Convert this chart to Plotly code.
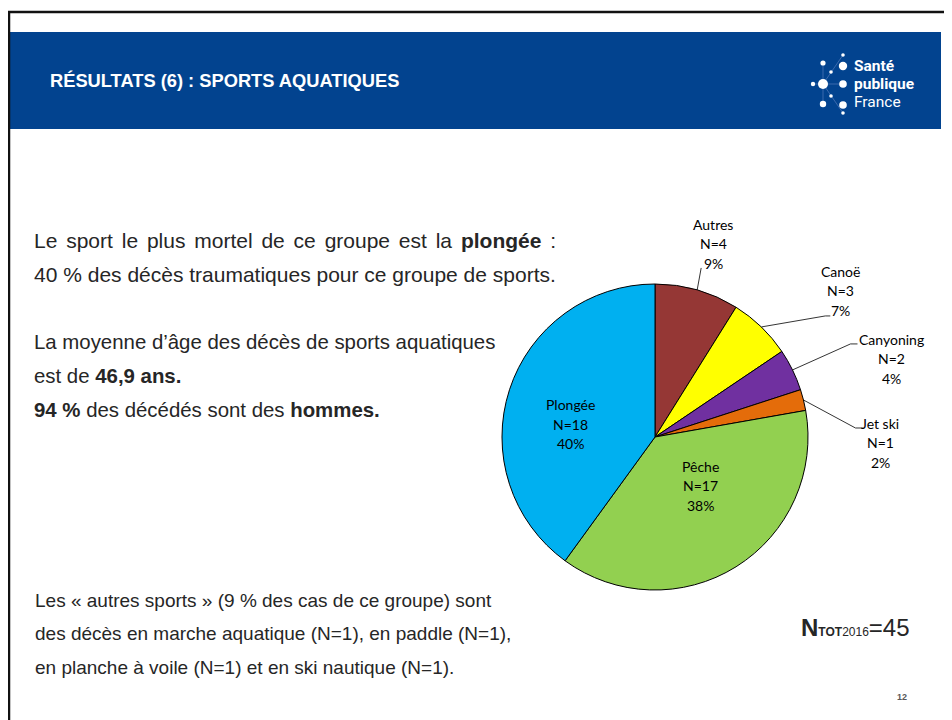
import math
import plotly.graph_objects as go

W, H = 952, 720

# ---- data ----
sports = ["Autres", "Canoë", "Canyoning", "Jet ski", "Pêche", "Plongée"]
deaths = [4, 3, 2, 1, 17, 18]
colors = ["#953735", "#FFFF00", "#7030A0", "#E46C0A", "#92D050", "#00B0F0"]
total_n = sum(deaths)

title_text = "RÉSULTATS (6) : SPORTS AQUATIQUES"
text_block1 = [
    "<span style='word-spacing:3px'>Le sport le plus mortel de ce groupe est la <b>plongée</b> :</span>",
    "40 % des décès traumatiques pour ce groupe de sports.",
]
text_block2 = [
    "La moyenne d’âge des décès de sports aquatiques",
    "est de <b>46,9 ans.</b>",
    "<b>94 %</b> des décédés sont des <b>hommes.</b>",
]
text_block3 = [
    "Les « autres sports » (9 % des cas de ce groupe) sont",
    "des décès en marche aquatique (N=1), en paddle (N=1),",
    "en planche à voile (N=1) et en ski nautique (N=1).",
]
page_number = "12"

# ---- layout helpers (page pixel -> paper); the page body has an 8px margin ----
OFF = 8

def px(x):
    return (x - OFF) / W

def py(y):
    return 1 - (y - OFF) / H

CX, CY, R = 655, 437, 153

fig = go.Figure()
fig.add_trace(go.Pie(
    labels=sports, values=deaths, sort=False, direction="clockwise", rotation=0,
    marker=dict(colors=colors, line=dict(color="#000000", width=1)),
    textinfo="none", hoverinfo="label+value+percent", showlegend=False,
    domain=dict(x=[px(CX - R), px(CX + R)], y=[py(CY + R), py(CY - R)]),
))

annotations = []
shapes = []

TXT = "#262626"

# frame and header
shapes.append(dict(type="rect", xref="paper", yref="paper", x0=px(8), x1=px(941), y0=py(129), y1=py(32),
                   fillcolor="#02438F", line=dict(width=0), layer="below"))
shapes.append(dict(type="line", xref="paper", yref="paper", x0=0, x1=1, y0=py(12), y1=py(12),
                   line=dict(color="#111111", width=2.5)))
shapes.append(dict(type="line", xref="paper", yref="paper", x0=px(9), x1=px(9), y0=py(11), y1=0,
                   line=dict(color="#111111", width=2.5)))

annotations.append(dict(text="<b>" + title_text + "</b>", x=px(48), y=py(81), xref="paper", yref="paper",
                        xanchor="left", yanchor="middle", showarrow=False,
                        font=dict(family="Liberation Sans", size=18.3, color="white")))

# logo
dots = [(843, 55, 1.8), (823, 63, 2.6), (843, 66, 4.2), (831, 72, 1.8), (813, 84, 2.2),
        (823, 84, 5.0), (843, 84, 3.8), (831, 96, 1.8), (823, 104, 3.2), (843, 105, 3.8), (843, 113, 1.8)]
logo_lines = [(823, 84, 843, 55), (823, 84, 843, 113), (813, 84, 843, 84), (823, 63, 823, 104)]
for x0, y0, x1, y1 in logo_lines:
    shapes.append(dict(type="line", xref="paper", yref="paper", x0=px(x0), y0=py(y0), x1=px(x1), y1=py(y1),
                       line=dict(color="#4a73b5", width=0.8)))
for x, y, r in dots:
    shapes.append(dict(type="circle", xref="paper", yref="paper", x0=px(x - r), x1=px(x + r),
                       y0=py(y + r), y1=py(y - r), fillcolor="white", line=dict(width=0)))
for txt, y, bold in [("Santé", 66, True), ("publique", 84, True), ("France", 102, False)]:
    annotations.append(dict(text=("<b>%s</b>" % txt) if bold else txt, x=px(852), y=py(y),
                            xref="paper", yref="paper", xanchor="left", yanchor="middle", showarrow=False,
                            font=dict(family="Roboto", size=15.5, color="white")))

# body text
def add_lines(lines, x0, y0, dy, size):
    for i, t in enumerate(lines):
        annotations.append(dict(text=t, x=px(x0), y=py(y0 + i * dy), xref="paper", yref="paper",
                                xanchor="left", yanchor="middle", showarrow=False,
                                font=dict(family="Liberation Sans", size=size, color=TXT)))

add_lines(text_block1, 32, 241, 33, 21)
add_lines(text_block2, 32, 342, 34, 20.4)
add_lines(text_block3, 33, 600, 33.5, 19)

annotations.append(dict(
    text="<b>N</b><span style='font-size:12px'><b>TOT</b>2016</span>=45",
    x=px(912), y=py(627), xref="paper", yref="paper", xanchor="right", yanchor="middle",
    showarrow=False, font=dict(family="Liberation Sans", size=24, color=TXT)))
annotations.append(dict(text="<b>" + page_number + "</b>", x=px(902), y=py(697), xref="paper", yref="paper",
                        xanchor="center", yanchor="middle", showarrow=False,
                        font=dict(family="Liberation Sans", size=9, color="#595959")))

# pie labels: computed from the slice angles
# inside label placement: (radius fraction, angular shift in degrees)
inside = {"Pêche": (0.435, -10.6), "Plongée": (0.56, -9.3)}
# outside label placement: (elbow dx, elbow dy, end dx, text center dx, text center dy) relative to edge point
outside = {
    "Autres": (4, -22, 0, 16, -46),
    "Canoë": (64, -11, 5, 79, -36),
    "Canyoning": (58, -26, 7, 99, -11),
    "Jet ski": (52, 28, 7, 77, 43),
}
LBL_FONT = dict(family="Lato", size=14, color="#000000")
LINE_H = 19.5
cum = 0
for name, v in zip(sports, deaths):
    theta = (cum + v / 2) / total_n * 2 * math.pi
    cum += v
    pct = round(v / total_n * 100)
    lines = [name, "N=%d" % v, "%d%%" % pct]
    if name in inside:
        frac, shift = inside[name]
        rr = R * frac
        th = theta + math.radians(shift)
        tx, ty = CX + rr * math.sin(th), CY - rr * math.cos(th)
    else:
        ex, ey = CX + R * math.sin(theta), CY - R * math.cos(theta)
        edx, edy, end, tdx, tdy = outside[name]
        bx, by = ex + edx, ey + edy
        path = "M %f,%f L %f,%f L %f,%f" % (px(ex), py(ey), px(bx), py(by), px(bx + end), py(by))
        shapes.append(dict(type="path", xref="paper", yref="paper", path=path,
                           line=dict(color="#000000", width=0.8)))
        tx, ty = ex + tdx, ey + tdy
    for i, t in enumerate(lines):
        annotations.append(dict(text=t, x=px(tx), y=py(ty + (i - 1) * LINE_H), xref="paper", yref="paper",
                                xanchor="center", yanchor="middle", showarrow=False, font=LBL_FONT))

fig.update_layout(width=W, height=H, margin=dict(l=0, r=0, t=0, b=0),
                  paper_bgcolor="white", plot_bgcolor="white",
                  shapes=shapes, annotations=annotations)
fig.write_html("out.html")
